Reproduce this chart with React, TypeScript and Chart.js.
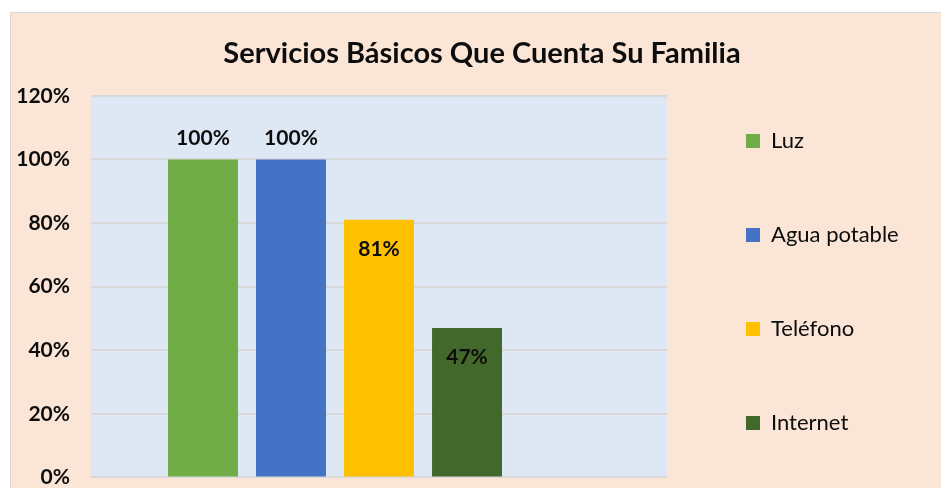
import React, { useEffect, useRef } from "react";
import { Chart, registerables } from "chart.js";

Chart.register(...registerables);

const categories = [""];
const seriesNames = ["Luz", "Agua potable", "Teléfono", "Internet"];
const seriesValues = [1.0, 1.0, 0.81, 0.47];
const seriesColors = ["#70AD47", "#4472C4", "#FFC000", "#43682B"];
const labelInside = [false, false, true, true];
const yMin = 0;
const yMax = 1.2;
const yStep = 0.2;
const titleText = "Servicios Básicos Que Cuenta Su Familia";

const FONT = "Lato, 'Open Sans', sans-serif";
const LEGEND_W = 286;

const plotBgPlugin = {
  id: "plotBg",
  beforeDraw(chart: any) {
    const { ctx, chartArea } = chart;
    ctx.save();
    ctx.fillStyle = "#DEE8F5";
    ctx.fillRect(chartArea.left, chartArea.top, chartArea.right - chartArea.left, chartArea.bottom - chartArea.top);
    ctx.restore();
  },
};

const legendLayoutPlugin = {
  id: "legendLayout",
  beforeLayout(chart: any) {
    const lg = chart.legend;
    if (lg && !lg.__patched) {
      const orig = lg.fit.bind(lg);
      lg.fit = function () {
        orig();
        this.width = LEGEND_W;
      };
      lg.__patched = true;
    }
  },
  afterLayout(chart: any) {
    const lg = chart.legend;
    if (!lg) return;
    lg.left += 7;
    lg.right += 7;
    lg.top = 45;
  },
};

const valueLabelPlugin = {
  id: "valueLabels",
  afterDatasetsDraw(chart: any) {
    const { ctx } = chart;
    ctx.save();
    ctx.font = `bold 21px ${FONT}`;
    ctx.fillStyle = "#0D0D0D";
    ctx.textAlign = "center";
    ctx.textBaseline = "middle";
    seriesValues.forEach((v, i) => {
      const meta = chart.getDatasetMeta(i);
      const el = meta.data[0];
      if (!el) return;
      const y = labelInside[i] ? el.y + 29 : el.y - 21;
      ctx.fillText(Math.round(v * 100) + "%", el.x, y);
    });
    ctx.restore();
  },
};

export default function App() {
  const ref = useRef<HTMLCanvasElement>(null);
  useEffect(() => {
    document.body.style.overflow = "hidden";
    const datasets: any[] = seriesNames.map((name, i) => ({
      label: name,
      data: [seriesValues[i]],
      backgroundColor: seriesColors[i],
      categoryPercentage: 0.764,
      barPercentage: 0.795,
    }));
    datasets.push({
      label: "",
      data: [null],
      backgroundColor: "rgba(0,0,0,0)",
      categoryPercentage: 0.764,
      barPercentage: 0.795,
    });
    const chart = new Chart(ref.current!, {
      type: "bar",
      data: { labels: categories, datasets },
      plugins: [plotBgPlugin, legendLayoutPlugin, valueLabelPlugin],
      options: {
        responsive: false,
        animation: false,
        layout: { padding: 0 },
        plugins: {
          tooltip: { enabled: false },
          title: {
            display: true,
            text: titleText,
            color: "#0D0D0D",
            font: { family: FONT, size: 29, weight: "bold" },
            padding: { top: 23, bottom: 25 },
          },
          legend: {
            position: "right",
            align: "start",
            labels: {
              filter: (item: any) => item.text !== "",
              boxWidth: 14,
              boxHeight: 14,
              padding: 72,
              color: "#0D0D0D",
              font: { family: FONT, size: 22 },
            },
          },
        },
        scales: {
          x: { display: false },
          y: {
            min: yMin,
            max: yMax,
            afterFit(scale: any) {
              scale.width = 80;
            },
            ticks: {
              stepSize: yStep,
              padding: 21,
              color: "#0D0D0D",
              font: { family: FONT, size: 21, weight: "bold" },
              callback: (v: any) => Math.round(Number(v) * 100) + "%",
            },
            grid: { color: "#D9D9D9", lineWidth: 2, drawTicks: false },
            border: { display: false },
          },
        },
      },
    });
    return () => chart.destroy();
  }, []);

  return (
    <div
      style={{
        position: "fixed",
        left: 10,
        top: 12,
        width: 931,
        height: 476,
        overflow: "hidden",
        background: "#FAE5D7",
        borderLeft: "1px solid #D9D9D9",
        borderTop: "1px solid #D9D9D9",
      }}
    >
      <canvas ref={ref} width={942} height={498} style={{ display: "block" }} />
    </div>
  );
}
